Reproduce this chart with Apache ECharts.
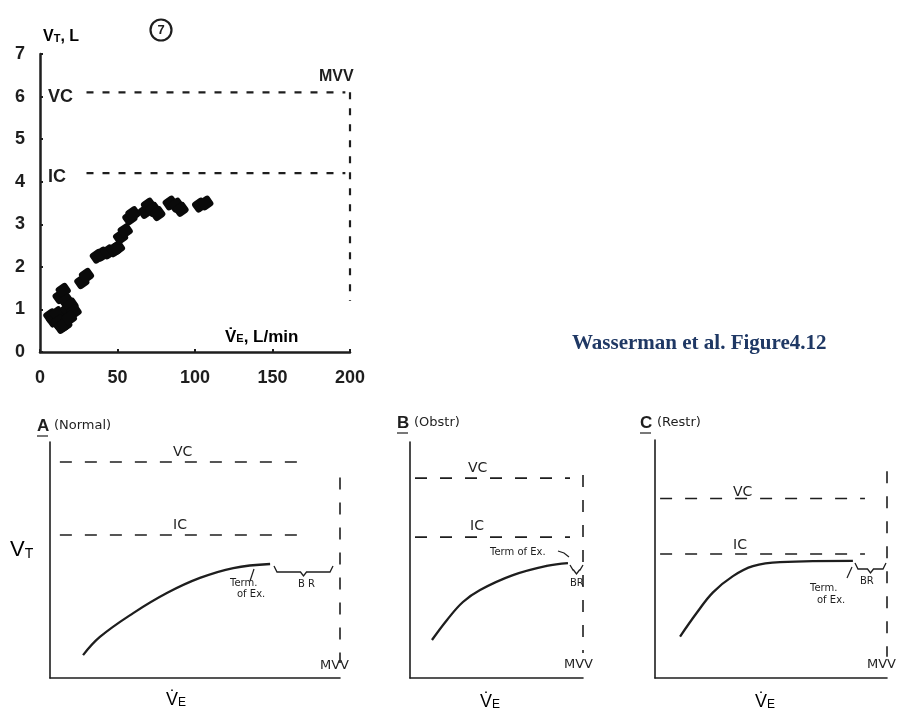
<!DOCTYPE html>
<html>
<head>
<meta charset="utf-8">
<script src="https://cdn.jsdelivr.net/npm/echarts@6/dist/echarts.min.js"></script>
<style>
  html, body { margin: 0; background: #fff; }
  #main { width: 913px; height: 714px; }
</style>
</head>
<body>
<div id="main"></div>
<script>
// top panel: measured VT vs VE
const xTicks = [0, 50, 100, 150, 200]
const yTicks = [0, 1, 2, 3, 4, 5, 6, 7]
const vtPoints = [
  [7, 0.85], [9, 0.75], [11, 0.9], [12, 0.7], [14, 0.6], [16, 0.65], [13, 1.3],
  [15, 1.45], [17, 1.2], [18, 1.0], [20, 1.1], [22, 0.95], [19, 0.8], [27, 1.65],
  [30, 1.8], [37, 2.25], [40, 2.3], [44, 2.35], [48, 2.4], [50, 2.45], [52, 2.7],
  [55, 2.85], [58, 3.15], [60, 3.25], [68, 3.3], [70, 3.45], [73, 3.35], [76, 3.25],
  [84, 3.5], [88, 3.45], [91, 3.35], [103, 3.45], [107, 3.5]
]
const topVC = 6.1
const topIC = 4.2
const topMVV = 200
const topDashFrom = 30
const topDashTo = 197
const topMVVLow = 1.2

// bottom panels (A normal, B obstr, C restr), relative units 0-100
const normalCurve = [[11.4, 9.7], [17.2, 17.4], [28.7, 27.5], [40.3, 36], [51.7, 42.4], [63.2, 46.6], [75.9, 48.3]]
const obstrCurve = [[12.7, 16.1], [21.4, 24.6], [30.6, 32.2], [40.5, 37.3], [59.5, 43.6], [79, 47.5], [91.3, 48.7]]
const restrCurve = [[10.8, 17.4], [18.1, 27.5], [25, 36], [33.6, 42.8], [42.2, 47], [53.9, 48.7], [85.3, 49.2]]
const panelVC = [91.5, 84.7, 75.4]
const panelIC = [60.6, 59.7, 52.1]
const panelDashFrom = [3.4, 2.9, 2.2]
const panelDashTo = [87, 92.5, 90.5]
const panelMVV = 100
const panelMVVTop = [85, 86, 86.9]
const panelMVVLow = [6.4, 10.6, 8.9]

const ink = '#1e1e1e'
const chart = echarts.init(document.getElementById('main'))

function dashed(xi, yi, data, dash, width) {
  return {
    type: 'line', xAxisIndex: xi, yAxisIndex: yi, data: data,
    symbol: 'none', silent: true,
    lineStyle: { color: ink, width: width, type: dash }
  }
}

function txt(x, y, text, font, extra) {
  return Object.assign({
    type: 'text', x: x, y: y,
    style: { text: text, font: font, fill: ink, verticalAlign: 'middle' }
  }, extra || {})
}

function brace(x1, x2, y, depth) {
  const mid = (x1 + x2) / 2
  return {
    type: 'polyline',
    shape: { points: [[x1, y - depth], [x1 + 3, y], [mid - 3, y], [mid, y + 4], [mid + 3, y], [x2 - 3, y], [x2, y - depth]] },
    style: { stroke: ink, lineWidth: 1.3, fill: null }
  }
}

const grids = [
  { left: 40, top: 54, width: 310, height: 298 },
  { left: 50, top: 442, width: 290, height: 236 },
  { left: 410, top: 442, width: 173, height: 236 },
  { left: 655, top: 440, width: 232, height: 238 }
]

const bottomAxisLine = { lineStyle: { color: ink, width: 1.6 } }
const xAxes = [{
  gridIndex: 0, type: 'value', min: 0, max: 200, interval: 50,
  axisLine: { lineStyle: { color: ink, width: 2.5 } },
  axisTick: { inside: true, length: 3, lineStyle: { color: ink, width: 2 } },
  splitLine: { show: false },
  axisLabel: { margin: 17, fontSize: 18, fontWeight: 'bold', color: ink, fontFamily: 'Liberation Sans',
    formatter: v => xTicks.includes(v) ? String(v) : '' }
}]
const yAxes = [{
  gridIndex: 0, type: 'value', min: 0, max: 7, interval: 1,
  axisLine: { lineStyle: { color: ink, width: 2.5 } },
  axisTick: { inside: true, length: 3, lineStyle: { color: ink, width: 2 } },
  splitLine: { show: false },
  axisLabel: { margin: 15, fontSize: 18, fontWeight: 'bold', color: ink, fontFamily: 'Liberation Sans',
    formatter: v => yTicks.includes(v) ? String(v) : '' }
}]
for (let i = 1; i <= 3; i++) {
  xAxes.push({ gridIndex: i, type: 'value', min: 0, max: 100, axisLine: bottomAxisLine,
    axisTick: { show: false }, axisLabel: { show: false }, splitLine: { show: false } })
  yAxes.push({ gridIndex: i, type: 'value', min: 0, max: 100, axisLine: bottomAxisLine,
    axisTick: { show: false }, axisLabel: { show: false }, splitLine: { show: false } })
}

const series = [
  {
    type: 'scatter', xAxisIndex: 0, yAxisIndex: 0, data: vtPoints,
    symbol: 'roundRect', symbolSize: [13, 12], symbolRotate: 35,
    itemStyle: { color: '#0a0a0a', opacity: 1 }, silent: true
  },
  dashed(0, 0, [[topDashFrom, topVC], [topDashTo, topVC]], [7, 9], 2.2),
  dashed(0, 0, [[topDashFrom, topIC], [topDashTo, topIC]], [7, 9], 2.2),
  dashed(0, 0, [[topMVV, topVC], [topMVV, topMVVLow]], [7, 9], 2.2)
]
const curves = [normalCurve, obstrCurve, restrCurve]
for (let i = 0; i < 3; i++) {
  const g = i + 1
  series.push(dashed(g, g, [[panelDashFrom[i], panelVC[i]], [panelDashTo[i], panelVC[i]]], [12, 13], 1.6))
  series.push(dashed(g, g, [[panelDashFrom[i], panelIC[i]], [panelDashTo[i], panelIC[i]]], [12, 13], 1.6))
  series.push(dashed(g, g, [[panelMVV, panelMVVTop[i]], [panelMVV, panelMVVLow[i]]], [12, 13], 1.6))
  series.push({
    type: 'line', xAxisIndex: g, yAxisIndex: g, data: curves[i], smooth: 0.4,
    symbol: 'none', silent: true, lineStyle: { color: ink, width: 2.3 }
  })
}

const sans = 'Liberation Sans'
const small = '10px "DejaVu Sans"'
const vtRich = {
  a: { fontSize: 22, fontFamily: sans, color: ink },
  s: { fontSize: 14, fontFamily: sans, color: ink, verticalAlign: 'bottom', padding: [8, 0, 0, 0] }
}
const veRich = {
  a: { fontSize: 18, fontFamily: sans, color: ink },
  s: { fontSize: 12, fontFamily: sans, color: ink, padding: [6, 0, 0, 0] }
}
function veLabel(x, y) {
  return { type: 'text', x: x, y: y, style: { text: '{a|V\u0307}{s|E}', rich: veRich, verticalAlign: 'middle' } }
}
function panelTitle(x, y, letter, word) {
  return [
    txt(x, y, letter, 'bold 17px "Liberation Sans"'),
    { type: 'line', shape: { x1: x, y1: y + 10, x2: x + 11, y2: y + 10 }, style: { stroke: ink, lineWidth: 1.2 } },
    txt(x + 17, y, word, '13px "DejaVu Sans"')
  ]
}

const graphic = [
  // top panel labels
  { type: 'circle', shape: { cx: 161, cy: 30, r: 10.5 }, style: { stroke: ink, lineWidth: 2.2, fill: '#fff' } },
  { type: 'text', x: 161, y: 30, style: { text: '7', font: 'bold 13px "Liberation Sans"', fill: ink, align: 'center', verticalAlign: 'middle' } },
  { type: 'text', x: 43, y: 37, style: {
    text: '{a|V}{s|T}{a|, L}', verticalAlign: 'middle',
    rich: { a: { fontSize: 16, fontWeight: 'bold', fontFamily: sans, color: ink },
            s: { fontSize: 11, fontWeight: 'bold', fontFamily: sans, color: ink, padding: [3, 0, 0, 0] } } } },
  txt(48, 97, 'VC', 'bold 18px "Liberation Sans"'),
  txt(48, 177, 'IC', 'bold 18px "Liberation Sans"'),
  txt(319, 77, 'MVV', 'bold 16px "Liberation Sans"'),
  { type: 'text', x: 225, y: 337, style: {
    text: '{a|V\u0307}{s|E}{a|, L/min}', verticalAlign: 'middle',
    rich: { a: { fontSize: 17, fontWeight: 'bold', fontFamily: sans, color: ink },
            s: { fontSize: 11, fontWeight: 'bold', fontFamily: sans, color: ink, padding: [4, 0, 0, 0] } } } },
  { type: 'text', x: 572, y: 344, style: {
    text: 'Wasserman et al. Figure4.12', font: 'bold 21px "Liberation Serif"', fill: '#1f3864', verticalAlign: 'middle' } },

  // panel A
  ...panelTitle(37, 426, 'A', '(Normal)'),
  txt(173, 452, 'VC', '14px "DejaVu Sans"'),
  txt(173, 525, 'IC', '14px "DejaVu Sans"'),
  { type: 'text', x: 10, y: 550, style: { text: '{a|V}{s|T}', rich: vtRich, verticalAlign: 'middle' } },
  txt(230, 583, 'Term.', small),
  txt(237, 594, 'of Ex.', small),
  { type: 'line', shape: { x1: 250, y1: 581, x2: 254, y2: 569 }, style: { stroke: ink, lineWidth: 1.2 } },
  brace(274, 333, 572, 6),
  txt(298, 584, 'B R', small),
  txt(320, 666, 'MVV', '13px "DejaVu Sans"'),
  veLabel(166, 700),

  // panel B
  ...panelTitle(397, 423, 'B', '(Obstr)'),
  txt(468, 468, 'VC', '14px "DejaVu Sans"'),
  txt(470, 526, 'IC', '14px "DejaVu Sans"'),
  txt(490, 552, 'Term of Ex.', small),
  { type: 'polyline', shape: { points: [[558, 551], [564, 553], [569, 557]] }, style: { stroke: ink, lineWidth: 1.2, fill: null } },
  brace(570, 583, 570, 5),
  txt(570, 583, 'BR', small),
  txt(564, 665, 'MVV', '13px "DejaVu Sans"'),
  veLabel(480, 702),

  // panel C
  ...panelTitle(640, 423, 'C', '(Restr)'),
  txt(733, 492, 'VC', '14px "DejaVu Sans"'),
  txt(733, 545, 'IC', '14px "DejaVu Sans"'),
  txt(810, 588, 'Term.', small),
  txt(817, 600, 'of Ex.', small),
  { type: 'line', shape: { x1: 847, y1: 578, x2: 852, y2: 567 }, style: { stroke: ink, lineWidth: 1.2 } },
  brace(855, 886, 569, 6),
  txt(860, 581, 'BR', small),
  txt(867, 665, 'MVV', '13px "DejaVu Sans"'),
  veLabel(755, 702)
]

chart.setOption({
  animation: false,
  backgroundColor: '#fff',
  grid: grids,
  xAxis: xAxes,
  yAxis: yAxes,
  series: series,
  graphic: graphic
})
</script>
</body>
</html>
